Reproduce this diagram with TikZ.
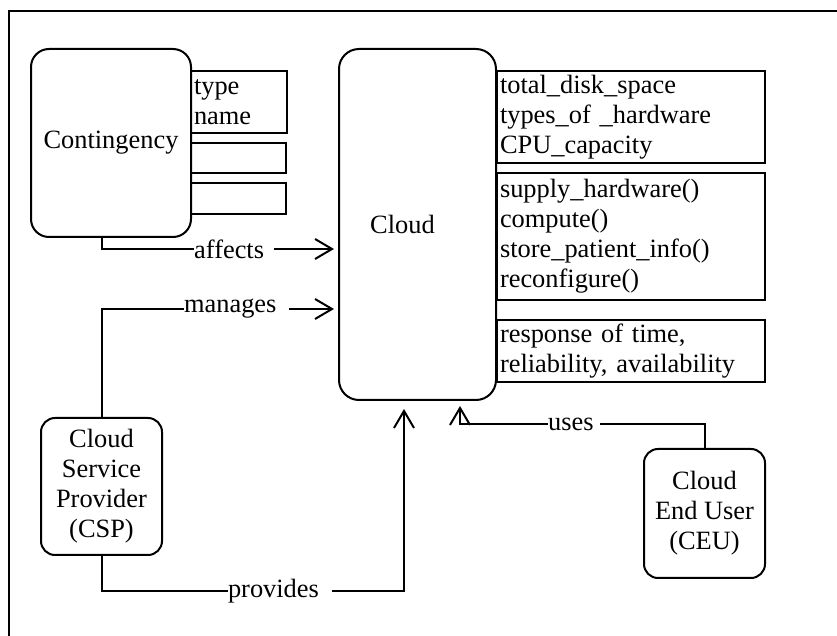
\documentclass[tikz,border=0pt]{standalone}
\usepackage{fontspec}
\setmainfont{Liberation Serif}
\usetikzlibrary{arrows.meta}
\tikzset{
  objbox/.style={shape=rectangle, draw=black, line width=1pt, rounded corners=9pt, align=center, inner sep=0pt},
  attrbox/.style={shape=rectangle, draw=black, line width=1pt, align=left, inner xsep=1.5pt, inner ysep=0pt},
  link/.style={line width=1pt, -{Straight Barb[length=8.5pt,width=10pt]}},
  lbl/.style={fill=white, inner sep=0pt},
}
\begin{document}
\begin{tikzpicture}[x=0.5pt, y=-0.5pt, font=\rmfamily\fontsize{13.2}{15}\selectfont]
\useasboundingbox (0,0) rectangle (837,636);
\draw[line width=1pt] (9,636) |- (837,11);
% classes
\node[objbox, minimum width=80pt, minimum height=94pt] (cont) at (111,143) {Contingency};
\node[objbox, rounded corners=10pt, minimum width=78.5pt, minimum height=175.5pt] (cloud) at (417.5,224.5) {Cloud\hspace*{15pt}};
\node[objbox, rounded corners=7pt, minimum width=60.5pt, minimum height=68.5pt] (csp) at (101.5,486.5) {Cloud\\Service\\Provider\\(CSP)};
\node[objbox, rounded corners=7pt, minimum width=60.5pt, minimum height=64.5pt] (ceu) at (704.5,513.5) {Cloud\\End User\\(CEU)};
% attribute boxes
\node[attrbox, text width=45pt, minimum height=31pt] (contattr) at (239,102) {type\\name};
\node[attrbox, text width=44.5pt, minimum height=15pt] (contops) at (238.5,158) {};
\node[attrbox, text width=44.5pt, minimum height=15.5pt] (contqual) at (238.5,198.5) {};
\node[attrbox, text width=131pt, minimum height=46pt] (cloudattr) at (631,117) {total\_disk\_space\\types\_of \_hardware\\CPU\_capacity};
\node[attrbox, text width=131pt, minimum height=63.5pt] (cloudops) at (631,236.5) {supply\_hardware()\\compute()\\store\_patient\_info()\\reconfigure()};
\node[attrbox, text width=131pt, minimum height=31pt] (cloudqual) at (631,351) {response of time,\\reliability, availability};
% associations
\draw[link, shorten >=2pt] ([xshift=-4.5pt]cont.south) |- node[lbl, pos=0.78] {affects\hspace*{5pt}} ([yshift=-12.25pt]cloud.west);
\draw[link, shorten >=2pt] (csp.north) |- node[lbl, pos=0.786] {manages\hspace*{6.5pt}} ([yshift=-42.25pt]cloud.west);
\draw[link, shorten >=4pt] (csp.south) -- ++(0,35) -| node[lbl, pos=0.295] {provides\hspace*{6.5pt}} ([xshift=-6.75pt]cloud.south);
\draw[link, shorten >=2.5pt] (ceu.north) -- ++(0,-24) -| node[lbl, pos=0.267] {uses\hspace*{3pt}} ([xshift=21.25pt]cloud.south);
\end{tikzpicture}
\end{document}
